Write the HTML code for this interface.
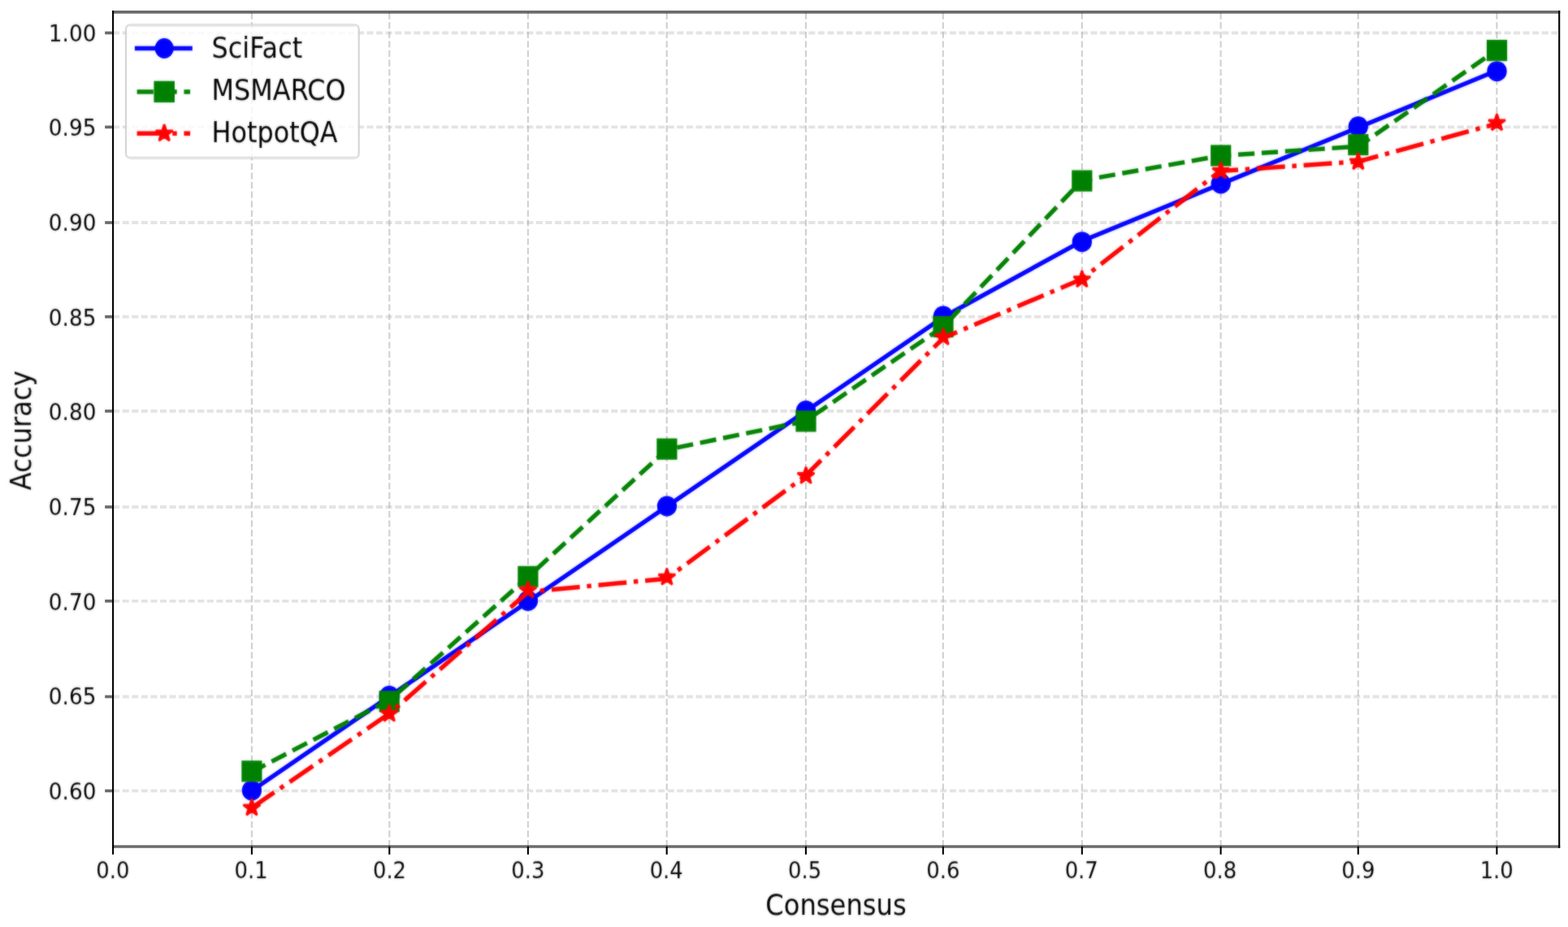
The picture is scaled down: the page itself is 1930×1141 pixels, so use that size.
<!DOCTYPE html>
<html lang="en"><head><meta charset="utf-8"><title>Accuracy vs Consensus</title>
<style>html,body{margin:0;padding:0;background:#fff}body{width:1930px;height:1141px;overflow:hidden}svg{display:block}text{font-family:"DejaVu Sans","Liberation Sans",sans-serif;fill:#000}</style>
</head><body>
<svg width="1930" height="1141" viewBox="0 0 1930 1141">
<defs><filter id="soft" x="-2000" y="-2000" width="6000" height="6000" filterUnits="userSpaceOnUse" color-interpolation-filters="sRGB"><feGaussianBlur stdDeviation="0.85 1.4" result="b"/><feComposite in="SourceGraphic" in2="b" operator="arithmetic" k1="0" k2="0.5" k3="0.50" k4="0"/></filter></defs>
<rect x="0" y="0" width="1930" height="1141" fill="#fff"/>
<g fill="none" stroke="#b0b0b0" stroke-dasharray="8.08 3.49">
<line x1="309.9" y1="1042.0" x2="309.9" y2="14.9" stroke-opacity="0.6" stroke-width="2.1"/>
<line x1="479.3" y1="1042.0" x2="479.3" y2="14.9" stroke-opacity="0.6" stroke-width="2.1"/>
<line x1="649.9" y1="1042.0" x2="649.9" y2="14.9" stroke-opacity="0.6" stroke-width="2.1"/>
<line x1="820.7" y1="1042.0" x2="820.7" y2="14.9" stroke-opacity="0.6" stroke-width="2.1"/>
<line x1="991.9" y1="1042.0" x2="991.9" y2="14.9" stroke-opacity="0.6" stroke-width="2.1"/>
<line x1="1160.8" y1="1042.0" x2="1160.8" y2="14.9" stroke-opacity="0.6" stroke-width="2.1"/>
<line x1="1331.8" y1="1042.0" x2="1331.8" y2="14.9" stroke-opacity="0.6" stroke-width="2.1"/>
<line x1="1502.6" y1="1042.0" x2="1502.6" y2="14.9" stroke-opacity="0.6" stroke-width="2.1"/>
<line x1="1671.7" y1="1042.0" x2="1671.7" y2="14.9" stroke-opacity="0.6" stroke-width="2.1"/>
<line x1="1842.4" y1="1042.0" x2="1842.4" y2="14.9" stroke-opacity="0.6" stroke-width="2.1"/>
<line x1="139.1" y1="40.5" x2="1919.2" y2="40.5" stroke-opacity="0.34" stroke-width="3.8"/>
<line x1="139.1" y1="156.4" x2="1919.2" y2="156.4" stroke-opacity="0.34" stroke-width="3.8"/>
<line x1="139.1" y1="274.0" x2="1919.2" y2="274.0" stroke-opacity="0.34" stroke-width="3.8"/>
<line x1="139.1" y1="389.9" x2="1919.2" y2="389.9" stroke-opacity="0.34" stroke-width="3.8"/>
<line x1="139.1" y1="506.0" x2="1919.2" y2="506.0" stroke-opacity="0.34" stroke-width="3.8"/>
<line x1="139.1" y1="624.0" x2="1919.2" y2="624.0" stroke-opacity="0.34" stroke-width="3.8"/>
<line x1="139.1" y1="739.8" x2="1919.2" y2="739.8" stroke-opacity="0.34" stroke-width="3.8"/>
<line x1="139.1" y1="857.5" x2="1919.2" y2="857.5" stroke-opacity="0.34" stroke-width="3.8"/>
<line x1="139.1" y1="973.4" x2="1919.2" y2="973.4" stroke-opacity="0.34" stroke-width="3.8"/>
</g>
<g filter="url(#soft)"><polyline points="309.57,973.54 479.91,856.87 650.25,740.19 820.59,623.51 990.93,506.84 1161.26,390.16 1331.60,296.82 1501.94,226.81 1672.28,156.81 1842.62,86.80" fill="none" stroke="#0000ff" stroke-width="5.46" stroke-linejoin="round" stroke-linecap="square"/>
<ellipse cx="309.90" cy="972.80" rx="12.2" ry="12.5" fill="#0000ff"/>
<ellipse cx="479.20" cy="856.60" rx="12.2" ry="12.5" fill="#0000ff"/>
<ellipse cx="649.90" cy="739.40" rx="12.2" ry="12.5" fill="#0000ff"/>
<ellipse cx="820.90" cy="623.00" rx="12.2" ry="12.5" fill="#0000ff"/>
<ellipse cx="992.00" cy="505.60" rx="12.2" ry="12.5" fill="#0000ff"/>
<ellipse cx="1161.00" cy="389.00" rx="12.2" ry="12.5" fill="#0000ff"/>
<ellipse cx="1331.80" cy="297.70" rx="12.2" ry="12.5" fill="#0000ff"/>
<ellipse cx="1502.70" cy="226.00" rx="12.2" ry="12.5" fill="#0000ff"/>
<ellipse cx="1671.80" cy="155.80" rx="12.2" ry="12.5" fill="#0000ff"/>
<ellipse cx="1842.50" cy="87.70" rx="12.2" ry="12.5" fill="#0000ff"/>
</g>
<g filter="url(#soft)"><polyline points="309.57,950.21 479.91,861.53 650.25,709.85 820.59,553.51 990.93,518.50 1161.26,401.83 1331.60,222.15 1501.94,191.81 1672.28,180.14 1842.62,61.13" fill="none" stroke="#008000" stroke-width="5.46" stroke-linejoin="round" stroke-dasharray="20.20 8.73" stroke-linecap="butt" stroke-dashoffset="1"/>
<rect x="297.30" y="936.20" width="25.20" height="26.20" fill="#008000"/>
<rect x="466.60" y="850.20" width="25.20" height="26.20" fill="#008000"/>
<rect x="637.30" y="696.70" width="25.20" height="26.20" fill="#008000"/>
<rect x="808.30" y="539.60" width="25.20" height="26.20" fill="#008000"/>
<rect x="979.40" y="505.30" width="25.20" height="26.20" fill="#008000"/>
<rect x="1148.40" y="389.00" width="25.20" height="26.20" fill="#008000"/>
<rect x="1319.20" y="209.50" width="25.20" height="26.20" fill="#008000"/>
<rect x="1490.10" y="178.40" width="25.20" height="26.20" fill="#008000"/>
<rect x="1659.20" y="165.00" width="25.20" height="26.20" fill="#008000"/>
<rect x="1829.90" y="49.00" width="25.20" height="26.20" fill="#008000"/>
</g>
<g filter="url(#soft)"><polyline points="309.57,994.54 479.91,877.87 650.25,728.52 820.59,712.19 990.93,586.18 1161.26,415.83 1331.60,343.49 1501.94,210.48 1672.28,198.81 1842.62,152.14" fill="none" stroke="#ff0000" stroke-width="5.46" stroke-linejoin="round" stroke-dasharray="34.93 8.73 5.46 8.73" stroke-linecap="butt" stroke-dashoffset="1"/>
<polygon points="309.90,983.38 307.45,990.93 299.52,990.93 305.93,995.59 303.48,1003.13 309.90,998.47 316.32,1003.13 313.87,995.59 320.28,990.93 312.35,990.93" fill="#ff0000" stroke="#ff0000" stroke-width="2.73" stroke-linejoin="bevel"/>
<polygon points="479.20,867.58 476.75,875.13 468.82,875.13 475.23,879.79 472.78,887.33 479.20,882.67 485.62,887.33 483.17,879.79 489.58,875.13 481.65,875.13" fill="#ff0000" stroke="#ff0000" stroke-width="2.73" stroke-linejoin="bevel"/>
<polygon points="649.90,715.68 647.45,723.23 639.52,723.23 645.93,727.89 643.48,735.43 649.90,730.77 656.32,735.43 653.87,727.89 660.28,723.23 652.35,723.23" fill="#ff0000" stroke="#ff0000" stroke-width="2.73" stroke-linejoin="bevel"/>
<polygon points="820.90,699.68 818.45,707.23 810.52,707.23 816.93,711.89 814.48,719.43 820.90,714.77 827.32,719.43 824.87,711.89 831.28,707.23 823.35,707.23" fill="#ff0000" stroke="#ff0000" stroke-width="2.73" stroke-linejoin="bevel"/>
<polygon points="992.00,574.88 989.55,582.43 981.62,582.43 988.03,587.09 985.58,594.63 992.00,589.97 998.42,594.63 995.97,587.09 1002.38,582.43 994.45,582.43" fill="#ff0000" stroke="#ff0000" stroke-width="2.73" stroke-linejoin="bevel"/>
<polygon points="1161.00,404.08 1158.55,411.63 1150.62,411.63 1157.03,416.29 1154.58,423.83 1161.00,419.17 1167.42,423.83 1164.97,416.29 1171.38,411.63 1163.45,411.63" fill="#ff0000" stroke="#ff0000" stroke-width="2.73" stroke-linejoin="bevel"/>
<polygon points="1331.80,333.08 1329.35,340.63 1321.42,340.63 1327.83,345.29 1325.38,352.83 1331.80,348.17 1338.22,352.83 1335.77,345.29 1342.18,340.63 1334.25,340.63" fill="#ff0000" stroke="#ff0000" stroke-width="2.73" stroke-linejoin="bevel"/>
<polygon points="1502.70,199.58 1500.25,207.13 1492.32,207.13 1498.73,211.79 1496.28,219.33 1502.70,214.67 1509.12,219.33 1506.67,211.79 1513.08,207.13 1505.15,207.13" fill="#ff0000" stroke="#ff0000" stroke-width="2.73" stroke-linejoin="bevel"/>
<polygon points="1671.80,188.28 1669.35,195.83 1661.42,195.83 1667.83,200.49 1665.38,208.03 1671.80,203.37 1678.22,208.03 1675.77,200.49 1682.18,195.83 1674.25,195.83" fill="#ff0000" stroke="#ff0000" stroke-width="2.73" stroke-linejoin="bevel"/>
<polygon points="1842.50,140.28 1840.05,147.83 1832.12,147.83 1838.53,152.49 1836.08,160.03 1842.50,155.37 1848.92,160.03 1846.47,152.49 1852.88,147.83 1844.95,147.83" fill="#ff0000" stroke="#ff0000" stroke-width="2.73" stroke-linejoin="bevel"/>
</g>
<g stroke="#000" stroke-linecap="butt">
<line x1="138.04999999999998" y1="14.9" x2="1920.25" y2="14.9" stroke-opacity="0.58" stroke-width="3.7"/>
<line x1="138.04999999999998" y1="1042.0" x2="1920.25" y2="1042.0" stroke-opacity="0.58" stroke-width="3.7"/>
<line x1="139.1" y1="13.1" x2="139.1" y2="1043.8" stroke-width="2.1"/>
<line x1="1919.2" y1="13.1" x2="1919.2" y2="1043.8" stroke-width="2.1"/>
<line x1="139.1" y1="1042.0" x2="139.1" y2="1051.75" stroke-width="2.1"/>
<line x1="309.9" y1="1042.0" x2="309.9" y2="1051.75" stroke-width="2.1"/>
<line x1="479.3" y1="1042.0" x2="479.3" y2="1051.75" stroke-width="2.1"/>
<line x1="649.9" y1="1042.0" x2="649.9" y2="1051.75" stroke-width="2.1"/>
<line x1="820.7" y1="1042.0" x2="820.7" y2="1051.75" stroke-width="2.1"/>
<line x1="991.9" y1="1042.0" x2="991.9" y2="1051.75" stroke-width="2.1"/>
<line x1="1160.8" y1="1042.0" x2="1160.8" y2="1051.75" stroke-width="2.1"/>
<line x1="1331.8" y1="1042.0" x2="1331.8" y2="1051.75" stroke-width="2.1"/>
<line x1="1502.6" y1="1042.0" x2="1502.6" y2="1051.75" stroke-width="2.1"/>
<line x1="1671.7" y1="1042.0" x2="1671.7" y2="1051.75" stroke-width="2.1"/>
<line x1="1842.4" y1="1042.0" x2="1842.4" y2="1051.75" stroke-width="2.1"/>
<line x1="129.15" y1="40.5" x2="139.1" y2="40.5" stroke-opacity="0.58" stroke-width="3.7"/>
<line x1="129.15" y1="156.4" x2="139.1" y2="156.4" stroke-opacity="0.58" stroke-width="3.7"/>
<line x1="129.15" y1="274.0" x2="139.1" y2="274.0" stroke-opacity="0.58" stroke-width="3.7"/>
<line x1="129.15" y1="389.9" x2="139.1" y2="389.9" stroke-opacity="0.58" stroke-width="3.7"/>
<line x1="129.15" y1="506.0" x2="139.1" y2="506.0" stroke-opacity="0.58" stroke-width="3.7"/>
<line x1="129.15" y1="624.0" x2="139.1" y2="624.0" stroke-opacity="0.58" stroke-width="3.7"/>
<line x1="129.15" y1="739.8" x2="139.1" y2="739.8" stroke-opacity="0.58" stroke-width="3.7"/>
<line x1="129.15" y1="857.5" x2="139.1" y2="857.5" stroke-opacity="0.58" stroke-width="3.7"/>
<line x1="129.15" y1="973.4" x2="139.1" y2="973.4" stroke-opacity="0.58" stroke-width="3.7"/>
</g>
<text transform="translate(138.83,1081.00) scale(0.965,1.07)" font-size="26.80px" text-anchor="middle" filter="url(#soft)">0.0</text>
<text transform="translate(309.17,1081.00) scale(0.965,1.07)" font-size="26.80px" text-anchor="middle" filter="url(#soft)">0.1</text>
<text transform="translate(479.51,1081.00) scale(0.965,1.07)" font-size="26.80px" text-anchor="middle" filter="url(#soft)">0.2</text>
<text transform="translate(649.85,1081.00) scale(0.965,1.07)" font-size="26.80px" text-anchor="middle" filter="url(#soft)">0.3</text>
<text transform="translate(820.19,1081.00) scale(0.965,1.07)" font-size="26.80px" text-anchor="middle" filter="url(#soft)">0.4</text>
<text transform="translate(990.53,1081.00) scale(0.965,1.07)" font-size="26.80px" text-anchor="middle" filter="url(#soft)">0.5</text>
<text transform="translate(1160.86,1081.00) scale(0.965,1.07)" font-size="26.80px" text-anchor="middle" filter="url(#soft)">0.6</text>
<text transform="translate(1331.20,1081.00) scale(0.965,1.07)" font-size="26.80px" text-anchor="middle" filter="url(#soft)">0.7</text>
<text transform="translate(1501.54,1081.00) scale(0.965,1.07)" font-size="26.80px" text-anchor="middle" filter="url(#soft)">0.8</text>
<text transform="translate(1671.88,1081.00) scale(0.965,1.07)" font-size="26.80px" text-anchor="middle" filter="url(#soft)">0.9</text>
<text transform="translate(1842.22,1081.00) scale(0.965,1.07)" font-size="26.80px" text-anchor="middle" filter="url(#soft)">1.0</text>
<text transform="translate(118.40,50.63) scale(0.982,1.07)" font-size="26.80px" text-anchor="end" filter="url(#soft)">1.00</text>
<text transform="translate(118.40,167.31) scale(0.982,1.07)" font-size="26.80px" text-anchor="end" filter="url(#soft)">0.95</text>
<text transform="translate(118.40,283.98) scale(0.982,1.07)" font-size="26.80px" text-anchor="end" filter="url(#soft)">0.90</text>
<text transform="translate(118.40,400.66) scale(0.982,1.07)" font-size="26.80px" text-anchor="end" filter="url(#soft)">0.85</text>
<text transform="translate(118.40,517.34) scale(0.982,1.07)" font-size="26.80px" text-anchor="end" filter="url(#soft)">0.80</text>
<text transform="translate(118.40,634.01) scale(0.982,1.07)" font-size="26.80px" text-anchor="end" filter="url(#soft)">0.75</text>
<text transform="translate(118.40,750.69) scale(0.982,1.07)" font-size="26.80px" text-anchor="end" filter="url(#soft)">0.70</text>
<text transform="translate(118.40,867.37) scale(0.982,1.07)" font-size="26.80px" text-anchor="end" filter="url(#soft)">0.65</text>
<text transform="translate(118.40,984.04) scale(0.982,1.07)" font-size="26.80px" text-anchor="end" filter="url(#soft)">0.60</text>
<text transform="translate(1029.00,1126.00) scale(1.0,1.1)" font-size="32.20px" text-anchor="middle" filter="url(#soft)">Consensus</text>
<text transform="translate(38.00,529.80) rotate(-90) scale(1.0,1.1)" font-size="32.20px" text-anchor="middle" filter="url(#soft)">Accuracy</text>
<rect x="155.0" y="30.4" width="286.70" height="164.20" rx="5.2" ry="5.2" fill="#fff" fill-opacity="0.8"/>
<g fill="none" stroke="#ccc">
<path d="M155.0,189.40 V35.60 M441.7,35.60 V189.40" stroke-opacity="0.78" stroke-width="2.3"/>
<path d="M155.0,35.60 A5.2,5.2 0 0 1 160.20,30.70 M436.50,30.70 A5.2,5.2 0 0 1 441.7,35.60 M441.7,189.40 A5.2,5.2 0 0 1 436.50,194.30 M160.20,194.30 A5.2,5.2 0 0 1 155.0,189.40" stroke-opacity="0.6" stroke-width="2.8"/>
<path d="M160.20,30.80 H436.50 M160.20,194.40 H436.50" stroke-opacity="0.52" stroke-width="3.7"/>
</g>
<g filter="url(#soft)"><line x1="168.60" y1="59.5" x2="234.10" y2="59.5" stroke="#0000ff" stroke-width="5.46" stroke-linecap="square"/>
<ellipse cx="202.20" cy="59.50" rx="11.6" ry="12.5" fill="#0000ff"/></g>
<text transform="translate(260.60,71.30) scale(0.99,1.1)" font-size="32.20px" text-anchor="start" filter="url(#soft)">SciFact</text>
<g filter="url(#soft)"><line x1="168.60" y1="112.9" x2="234.10" y2="112.9" stroke="#008000" stroke-width="5.46" stroke-dasharray="20.20 8.73" stroke-linecap="butt"/>
<rect x="189.40" y="99.70" width="25.60" height="26.40" fill="#008000"/></g>
<text transform="translate(260.60,122.60) scale(0.99,1.1)" font-size="32.20px" text-anchor="start" filter="url(#soft)">MSMARCO</text>
<g filter="url(#soft)"><line x1="168.60" y1="164.2" x2="234.10" y2="164.2" stroke="#ff0000" stroke-width="5.46" stroke-dasharray="34.93 8.73 5.46 8.73" stroke-linecap="butt"/>
<polygon points="202.20,153.28 199.75,160.83 191.82,160.83 198.23,165.49 195.78,173.03 202.20,168.37 208.62,173.03 206.17,165.49 212.58,160.83 204.65,160.83" fill="#ff0000" stroke="#ff0000" stroke-width="2.73" stroke-linejoin="bevel"/></g>
<text transform="translate(260.60,175.10) scale(0.99,1.1)" font-size="32.20px" text-anchor="start" filter="url(#soft)">HotpotQA</text>
</svg></body></html>
